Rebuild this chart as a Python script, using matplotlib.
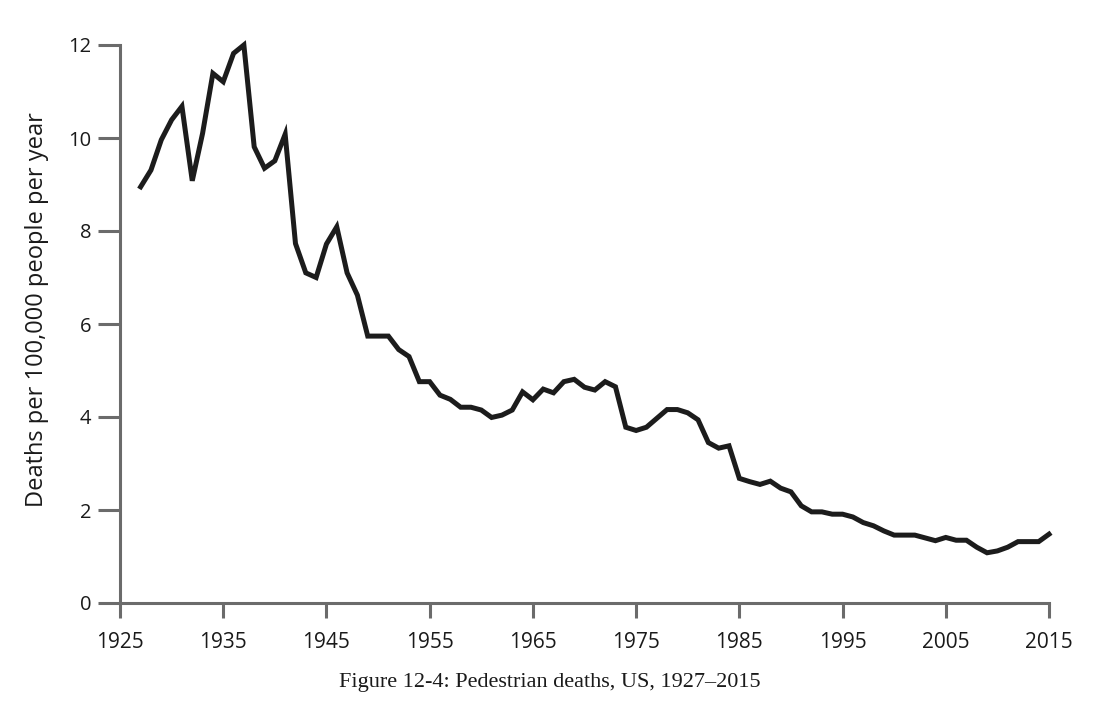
import matplotlib
matplotlib.use('Agg')
import matplotlib.pyplot as plt

years = list(range(1927, 2016))
deaths = [8.95, 9.31, 9.96, 10.39, 10.68, 9.08, 10.1, 11.39, 11.21, 11.82,
          12.0, 9.81, 9.35, 9.51, 10.08, 7.73, 7.10, 7.00, 7.72, 8.09,
          7.10, 6.62, 5.74, 5.74, 5.74, 5.45, 5.30, 4.76, 4.76, 4.47,
          4.38, 4.21, 4.21, 4.15, 3.99, 4.04, 4.15, 4.54, 4.37, 4.60,
          4.52, 4.76, 4.81, 4.64, 4.58, 4.76, 4.65, 3.78, 3.71, 3.78,
          3.97, 4.16, 4.16, 4.09, 3.94, 3.45, 3.33, 3.38, 2.68, 2.61,
          2.55, 2.62, 2.47, 2.39, 2.09, 1.96, 1.96, 1.91, 1.91, 1.85,
          1.73, 1.66, 1.55, 1.46, 1.46, 1.46, 1.40, 1.34, 1.41, 1.35,
          1.35, 1.20, 1.08, 1.12, 1.20, 1.32, 1.32, 1.32, 1.48]
xticks = list(range(1925, 2016, 10))
yticks = [0, 2, 4, 6, 8, 10, 12]

axis_color = '#6b6b6b'

fig = plt.figure(figsize=(10.94, 7.18), dpi=100)
ax = fig.add_axes([120 / 1094, 1 - 603 / 718, 929 / 1094, 558 / 718])

ax.plot(years, deaths, color='#1c1c1c', lw=3.6, solid_joinstyle='miter',
        clip_on=False)

ax.set_xlim(1925, 2015)
ax.set_ylim(0, 12)
ax.set_xticks(xticks)
ax.set_yticks(yticks)

for s in ['top', 'right']:
    ax.spines[s].set_visible(False)
for s in ['left', 'bottom']:
    ax.spines[s].set_color(axis_color)
    ax.spines[s].set_linewidth(2.2)

ax.tick_params(axis='y', length=15.6, width=2.2, color=axis_color, pad=5,
               labelsize=14.5, labelcolor='#1a1a1a')
ax.tick_params(axis='x', length=11, width=2.2, color=axis_color, pad=10,
               labelsize=15, labelcolor='#1a1a1a')
for lab in ax.get_xticklabels() + ax.get_yticklabels():
    lab.set_family('Open Sans')

ax.set_ylabel('Deaths per 100,000 people per year', fontsize=17,
              family='Open Sans', color='#1a1a1a')
ax.yaxis.set_label_coords(-0.076, 0.525)

fig.text(550 / 1094, 1 - 683 / 718, 'Figure 12-4: Pedestrian deaths, US, 1927\u20132015',
         ha='center', va='center', fontsize=16, family='Liberation Serif',
         color='#1a1a1a')

fig.savefig('out.png', dpi=100)
